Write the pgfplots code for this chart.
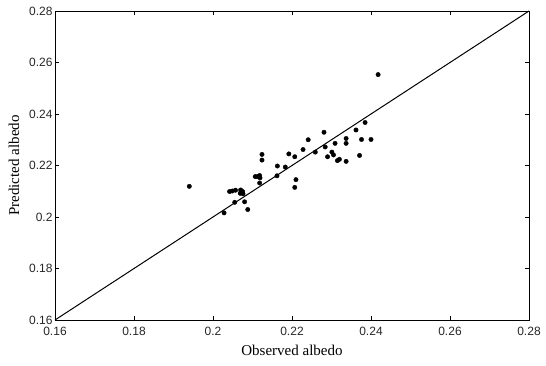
\documentclass[border=0pt]{standalone}
\usepackage{pgfplots}
\pgfplotsset{compat=1.18}
\usepackage{fontspec}
\setmainfont{Liberation Serif}
\newfontfamily\tickfont{Liberation Sans}
\begin{document}
\begin{tikzpicture}
\begin{axis}[
  at={(0pt,0pt)}, anchor=origin,
  scale only axis, width=474pt, height=309pt,
  xmin=0.16, xmax=0.28, ymin=0.16, ymax=0.28,
  xtick={0.16,0.18,...,0.28}, ytick={0.16,0.18,...,0.28},
  xticklabels={0.16,0.18,0.2,0.22,0.24,0.26,0.28},
  yticklabels={0.16,0.18,0.2,0.22,0.24,0.26,0.28},
  tick align=inside, tick pos=both,
  major tick length=4pt,
  tick style={black, line width=0.6pt},
  axis line style={line width=0.8pt},
  ticklabel style={font=\tickfont\fontsize{12}{14}\selectfont, color=black!85},
  xticklabel style={yshift=-4pt},
  yticklabel style={xshift=1pt},
  xlabel={Observed albedo}, ylabel={Predicted albedo},
  label style={font=\fontsize{15}{17}\selectfont},
  xlabel style={yshift=-2pt},
  ylabel style={yshift=3pt},
  clip=false,
]
\addplot[black, line width=1pt] coordinates {(0.16,0.16) (0.28,0.28)};
\addplot[only marks, mark=*, mark size=2.2pt, black] coordinates {
(0.1940,0.2119) (0.2418,0.2553) (0.2028,0.2016) (0.2088,0.2029)
(0.2080,0.2059) (0.2055,0.2057) (0.2042,0.2099) (0.2049,0.2101)
(0.2057,0.2104) (0.2070,0.2105) (0.2075,0.2099) (0.2076,0.2090)
(0.2069,0.2092) (0.2107,0.2157) (0.2113,0.2157) (0.2118,0.2161)
(0.2119,0.2152) (0.2118,0.2132) (0.2124,0.2221) (0.2124,0.2243)
(0.2162,0.2160) (0.2163,0.2198) (0.2183,0.2194) (0.2192,0.2245)
(0.2207,0.2234) (0.2210,0.2145) (0.2207,0.2115) (0.2228,0.2262)
(0.2241,0.2300) (0.2259,0.2252) (0.2281,0.2329) (0.2284,0.2272)
(0.2290,0.2234) (0.2301,0.2252) (0.2305,0.2241) (0.2309,0.2286)
(0.2315,0.2219) (0.2320,0.2224) (0.2337,0.2305) (0.2337,0.2286)
(0.2337,0.2216) (0.2362,0.2338) (0.2371,0.2239) (0.2376,0.2301)
(0.2385,0.2367) (0.2400,0.2301)
};
\end{axis}
\path[use as bounding box] (-55pt,-46pt) rectangle (491pt,320pt);
\end{tikzpicture}
\end{document}
